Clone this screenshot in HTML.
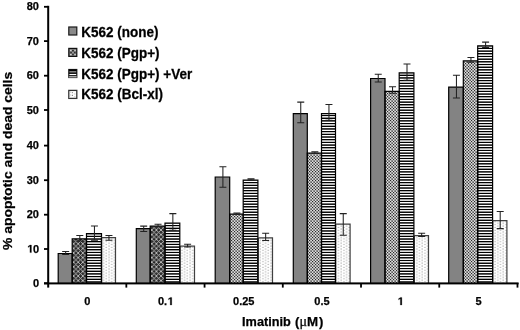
<!DOCTYPE html>
<html><head><meta charset="utf-8"><style>
html,body{margin:0;padding:0;background:#fff;width:520px;height:330px;overflow:hidden}
svg{display:block;will-change:transform}
.bl{filter:blur(0.35px)}
.bl2{filter:blur(0.25px)}
.t11{font-family:"Liberation Sans",sans-serif;font-weight:bold;font-size:11px;fill:#000;stroke:#000;stroke-width:0.25px}
.t14{font-family:"Liberation Sans",sans-serif;font-weight:bold;font-size:13.9px;fill:#000;stroke:#000;stroke-width:0.25px}
.leg{font-family:"Liberation Sans",sans-serif;font-weight:bold;font-size:13.5px;fill:#000;stroke:#000;stroke-width:0.25px}
.t13{font-family:"Liberation Sans",sans-serif;font-weight:bold;font-size:13px;fill:#000;stroke:#000;stroke-width:0.25px}
</style></head><body>
<svg width="520" height="330" viewBox="0 0 520 330">
<defs>
<pattern id="st" patternUnits="userSpaceOnUse" x="0" y="0" width="20" height="330"><rect y="40" width="20" height="1" fill="rgb(0,0,0)"/><rect y="41" width="20" height="1" fill="rgb(255,255,255)"/><rect y="42" width="20" height="1" fill="rgb(81,81,81)"/><rect y="43" width="20" height="1" fill="rgb(51,51,51)"/><rect y="44" width="20" height="1" fill="rgb(255,255,255)"/><rect y="45" width="20" height="1" fill="rgb(0,0,0)"/><rect y="46" width="20" height="1" fill="rgb(164,164,164)"/><rect y="47" width="20" height="1" fill="rgb(212,212,212)"/><rect y="48" width="20" height="1" fill="rgb(0,0,0)"/><rect y="49" width="20" height="1" fill="rgb(255,255,255)"/><rect y="50" width="20" height="1" fill="rgb(100,100,100)"/><rect y="51" width="20" height="1" fill="rgb(34,34,34)"/><rect y="52" width="20" height="1" fill="rgb(255,255,255)"/><rect y="53" width="20" height="1" fill="rgb(3,3,3)"/><rect y="54" width="20" height="1" fill="rgb(145,145,145)"/><rect y="55" width="20" height="1" fill="rgb(228,228,228)"/><rect y="56" width="20" height="1" fill="rgb(0,0,0)"/><rect y="57" width="20" height="1" fill="rgb(246,246,246)"/><rect y="58" width="20" height="1" fill="rgb(120,120,120)"/><rect y="59" width="20" height="1" fill="rgb(19,19,19)"/><rect y="60" width="20" height="1" fill="rgb(255,255,255)"/><rect y="61" width="20" height="1" fill="rgb(16,16,16)"/><rect y="62" width="20" height="1" fill="rgb(125,125,125)"/><rect y="63" width="20" height="1" fill="rgb(243,243,243)"/><rect y="64" width="20" height="1" fill="rgb(0,0,0)"/><rect y="65" width="20" height="1" fill="rgb(232,232,232)"/><rect y="66" width="20" height="1" fill="rgb(140,140,140)"/><rect y="67" width="20" height="1" fill="rgb(5,5,5)"/><rect y="68" width="20" height="1" fill="rgb(255,255,255)"/><rect y="69" width="20" height="1" fill="rgb(31,31,31)"/><rect y="70" width="20" height="1" fill="rgb(105,105,105)"/><rect y="71" width="20" height="1" fill="rgb(255,255,255)"/><rect y="72" width="20" height="1" fill="rgb(0,0,0)"/><rect y="73" width="20" height="1" fill="rgb(216,216,216)"/><rect y="74" width="20" height="1" fill="rgb(160,160,160)"/><rect y="75" width="20" height="1" fill="rgb(0,0,0)"/><rect y="76" width="20" height="1" fill="rgb(255,255,255)"/><rect y="77" width="20" height="1" fill="rgb(48,48,48)"/><rect y="78" width="20" height="1" fill="rgb(85,85,85)"/><rect y="79" width="20" height="1" fill="rgb(255,255,255)"/><rect y="80" width="20" height="1" fill="rgb(0,0,0)"/><rect y="81" width="20" height="1" fill="rgb(199,199,199)"/><rect y="82" width="20" height="1" fill="rgb(179,179,179)"/><rect y="83" width="20" height="1" fill="rgb(0,0,0)"/><rect y="84" width="20" height="1" fill="rgb(255,255,255)"/><rect y="85" width="20" height="1" fill="rgb(65,65,65)"/><rect y="86" width="20" height="1" fill="rgb(66,66,66)"/><rect y="87" width="20" height="1" fill="rgb(255,255,255)"/><rect y="88" width="20" height="1" fill="rgb(0,0,0)"/><rect y="89" width="20" height="1" fill="rgb(180,180,180)"/><rect y="90" width="20" height="1" fill="rgb(198,198,198)"/><rect y="91" width="20" height="1" fill="rgb(0,0,0)"/><rect y="92" width="20" height="1" fill="rgb(255,255,255)"/><rect y="93" width="20" height="1" fill="rgb(84,84,84)"/><rect y="94" width="20" height="1" fill="rgb(48,48,48)"/><rect y="95" width="20" height="1" fill="rgb(255,255,255)"/><rect y="96" width="20" height="1" fill="rgb(0,0,0)"/><rect y="97" width="20" height="1" fill="rgb(161,161,161)"/><rect y="98" width="20" height="1" fill="rgb(215,215,215)"/><rect y="99" width="20" height="1" fill="rgb(0,0,0)"/><rect y="100" width="20" height="1" fill="rgb(255,255,255)"/><rect y="101" width="20" height="1" fill="rgb(104,104,104)"/><rect y="102" width="20" height="1" fill="rgb(32,32,32)"/><rect y="103" width="20" height="1" fill="rgb(255,255,255)"/><rect y="104" width="20" height="1" fill="rgb(5,5,5)"/><rect y="105" width="20" height="1" fill="rgb(141,141,141)"/><rect y="106" width="20" height="1" fill="rgb(231,231,231)"/><rect y="107" width="20" height="1" fill="rgb(0,0,0)"/><rect y="108" width="20" height="1" fill="rgb(244,244,244)"/><rect y="109" width="20" height="1" fill="rgb(124,124,124)"/><rect y="110" width="20" height="1" fill="rgb(17,17,17)"/><rect y="111" width="20" height="1" fill="rgb(255,255,255)"/><rect y="112" width="20" height="1" fill="rgb(18,18,18)"/><rect y="113" width="20" height="1" fill="rgb(121,121,121)"/><rect y="114" width="20" height="1" fill="rgb(245,245,245)"/><rect y="115" width="20" height="1" fill="rgb(0,0,0)"/><rect y="116" width="20" height="1" fill="rgb(229,229,229)"/><rect y="117" width="20" height="1" fill="rgb(144,144,144)"/><rect y="118" width="20" height="1" fill="rgb(3,3,3)"/><rect y="119" width="20" height="1" fill="rgb(255,255,255)"/><rect y="120" width="20" height="1" fill="rgb(34,34,34)"/><rect y="121" width="20" height="1" fill="rgb(101,101,101)"/><rect y="122" width="20" height="1" fill="rgb(255,255,255)"/><rect y="123" width="20" height="1" fill="rgb(0,0,0)"/><rect y="124" width="20" height="1" fill="rgb(213,213,213)"/><rect y="125" width="20" height="1" fill="rgb(163,163,163)"/><rect y="126" width="20" height="1" fill="rgb(0,0,0)"/><rect y="127" width="20" height="1" fill="rgb(255,255,255)"/><rect y="128" width="20" height="1" fill="rgb(51,51,51)"/><rect y="129" width="20" height="1" fill="rgb(82,82,82)"/><rect y="130" width="20" height="1" fill="rgb(255,255,255)"/><rect y="131" width="20" height="1" fill="rgb(0,0,0)"/><rect y="132" width="20" height="1" fill="rgb(196,196,196)"/><rect y="133" width="20" height="1" fill="rgb(183,183,183)"/><rect y="134" width="20" height="1" fill="rgb(0,0,0)"/><rect y="135" width="20" height="1" fill="rgb(255,255,255)"/><rect y="136" width="20" height="1" fill="rgb(69,69,69)"/><rect y="137" width="20" height="1" fill="rgb(63,63,63)"/><rect y="138" width="20" height="1" fill="rgb(255,255,255)"/><rect y="139" width="20" height="1" fill="rgb(0,0,0)"/><rect y="140" width="20" height="1" fill="rgb(177,177,177)"/><rect y="141" width="20" height="1" fill="rgb(201,201,201)"/><rect y="142" width="20" height="1" fill="rgb(0,0,0)"/><rect y="143" width="20" height="1" fill="rgb(255,255,255)"/><rect y="144" width="20" height="1" fill="rgb(88,88,88)"/><rect y="145" width="20" height="1" fill="rgb(45,45,45)"/><rect y="146" width="20" height="1" fill="rgb(255,255,255)"/><rect y="147" width="20" height="1" fill="rgb(0,0,0)"/><rect y="148" width="20" height="1" fill="rgb(158,158,158)"/><rect y="149" width="20" height="1" fill="rgb(218,218,218)"/><rect y="150" width="20" height="1" fill="rgb(0,0,0)"/><rect y="151" width="20" height="1" fill="rgb(254,254,254)"/><rect y="152" width="20" height="1" fill="rgb(107,107,107)"/><rect y="153" width="20" height="1" fill="rgb(29,29,29)"/><rect y="154" width="20" height="1" fill="rgb(255,255,255)"/><rect y="155" width="20" height="1" fill="rgb(7,7,7)"/><rect y="156" width="20" height="1" fill="rgb(138,138,138)"/><rect y="157" width="20" height="1" fill="rgb(234,234,234)"/><rect y="158" width="20" height="1" fill="rgb(0,0,0)"/><rect y="159" width="20" height="1" fill="rgb(241,241,241)"/><rect y="160" width="20" height="1" fill="rgb(127,127,127)"/><rect y="161" width="20" height="1" fill="rgb(14,14,14)"/><rect y="162" width="20" height="1" fill="rgb(255,255,255)"/><rect y="163" width="20" height="1" fill="rgb(21,21,21)"/><rect y="164" width="20" height="1" fill="rgb(118,118,118)"/><rect y="165" width="20" height="1" fill="rgb(248,248,248)"/><rect y="166" width="20" height="1" fill="rgb(0,0,0)"/><rect y="167" width="20" height="1" fill="rgb(226,226,226)"/><rect y="168" width="20" height="1" fill="rgb(147,147,147)"/><rect y="169" width="20" height="1" fill="rgb(1,1,1)"/><rect y="170" width="20" height="1" fill="rgb(255,255,255)"/><rect y="171" width="20" height="1" fill="rgb(37,37,37)"/><rect y="172" width="20" height="1" fill="rgb(98,98,98)"/><rect y="173" width="20" height="1" fill="rgb(255,255,255)"/><rect y="174" width="20" height="1" fill="rgb(0,0,0)"/><rect y="175" width="20" height="1" fill="rgb(210,210,210)"/><rect y="176" width="20" height="1" fill="rgb(167,167,167)"/><rect y="177" width="20" height="1" fill="rgb(0,0,0)"/><rect y="178" width="20" height="1" fill="rgb(255,255,255)"/><rect y="179" width="20" height="1" fill="rgb(54,54,54)"/><rect y="180" width="20" height="1" fill="rgb(79,79,79)"/><rect y="181" width="20" height="1" fill="rgb(255,255,255)"/><rect y="182" width="20" height="1" fill="rgb(0,0,0)"/><rect y="183" width="20" height="1" fill="rgb(192,192,192)"/><rect y="184" width="20" height="1" fill="rgb(186,186,186)"/><rect y="185" width="20" height="1" fill="rgb(0,0,0)"/><rect y="186" width="20" height="1" fill="rgb(255,255,255)"/><rect y="187" width="20" height="1" fill="rgb(72,72,72)"/><rect y="188" width="20" height="1" fill="rgb(60,60,60)"/><rect y="189" width="20" height="1" fill="rgb(255,255,255)"/><rect y="190" width="20" height="1" fill="rgb(0,0,0)"/><rect y="191" width="20" height="1" fill="rgb(174,174,174)"/><rect y="192" width="20" height="1" fill="rgb(204,204,204)"/><rect y="193" width="20" height="1" fill="rgb(0,0,0)"/><rect y="194" width="20" height="1" fill="rgb(255,255,255)"/><rect y="195" width="20" height="1" fill="rgb(91,91,91)"/><rect y="196" width="20" height="1" fill="rgb(42,42,42)"/><rect y="197" width="20" height="1" fill="rgb(255,255,255)"/><rect y="198" width="20" height="1" fill="rgb(0,0,0)"/><rect y="199" width="20" height="1" fill="rgb(154,154,154)"/><rect y="200" width="20" height="1" fill="rgb(221,221,221)"/><rect y="201" width="20" height="1" fill="rgb(0,0,0)"/><rect y="202" width="20" height="1" fill="rgb(252,252,252)"/><rect y="203" width="20" height="1" fill="rgb(111,111,111)"/><rect y="204" width="20" height="1" fill="rgb(26,26,26)"/><rect y="205" width="20" height="1" fill="rgb(255,255,255)"/><rect y="206" width="20" height="1" fill="rgb(9,9,9)"/><rect y="207" width="20" height="1" fill="rgb(134,134,134)"/><rect y="208" width="20" height="1" fill="rgb(236,236,236)"/><rect y="209" width="20" height="1" fill="rgb(0,0,0)"/><rect y="210" width="20" height="1" fill="rgb(239,239,239)"/><rect y="211" width="20" height="1" fill="rgb(131,131,131)"/><rect y="212" width="20" height="1" fill="rgb(12,12,12)"/><rect y="213" width="20" height="1" fill="rgb(255,255,255)"/><rect y="214" width="20" height="1" fill="rgb(23,23,23)"/><rect y="215" width="20" height="1" fill="rgb(114,114,114)"/><rect y="216" width="20" height="1" fill="rgb(250,250,250)"/><rect y="217" width="20" height="1" fill="rgb(0,0,0)"/><rect y="218" width="20" height="1" fill="rgb(224,224,224)"/><rect y="219" width="20" height="1" fill="rgb(151,151,151)"/><rect y="220" width="20" height="1" fill="rgb(0,0,0)"/><rect y="221" width="20" height="1" fill="rgb(255,255,255)"/><rect y="222" width="20" height="1" fill="rgb(39,39,39)"/><rect y="223" width="20" height="1" fill="rgb(95,95,95)"/><rect y="224" width="20" height="1" fill="rgb(255,255,255)"/><rect y="225" width="20" height="1" fill="rgb(0,0,0)"/><rect y="226" width="20" height="1" fill="rgb(207,207,207)"/><rect y="227" width="20" height="1" fill="rgb(170,170,170)"/><rect y="228" width="20" height="1" fill="rgb(0,0,0)"/><rect y="229" width="20" height="1" fill="rgb(255,255,255)"/><rect y="230" width="20" height="1" fill="rgb(57,57,57)"/><rect y="231" width="20" height="1" fill="rgb(75,75,75)"/><rect y="232" width="20" height="1" fill="rgb(255,255,255)"/><rect y="233" width="20" height="1" fill="rgb(0,0,0)"/><rect y="234" width="20" height="1" fill="rgb(189,189,189)"/><rect y="235" width="20" height="1" fill="rgb(189,189,189)"/><rect y="236" width="20" height="1" fill="rgb(0,0,0)"/><rect y="237" width="20" height="1" fill="rgb(255,255,255)"/><rect y="238" width="20" height="1" fill="rgb(75,75,75)"/><rect y="239" width="20" height="1" fill="rgb(57,57,57)"/><rect y="240" width="20" height="1" fill="rgb(255,255,255)"/><rect y="241" width="20" height="1" fill="rgb(0,0,0)"/><rect y="242" width="20" height="1" fill="rgb(170,170,170)"/><rect y="243" width="20" height="1" fill="rgb(207,207,207)"/><rect y="244" width="20" height="1" fill="rgb(0,0,0)"/><rect y="245" width="20" height="1" fill="rgb(255,255,255)"/><rect y="246" width="20" height="1" fill="rgb(94,94,94)"/><rect y="247" width="20" height="1" fill="rgb(40,40,40)"/><rect y="248" width="20" height="1" fill="rgb(255,255,255)"/><rect y="249" width="20" height="1" fill="rgb(0,0,0)"/><rect y="250" width="20" height="1" fill="rgb(151,151,151)"/><rect y="251" width="20" height="1" fill="rgb(224,224,224)"/><rect y="252" width="20" height="1" fill="rgb(0,0,0)"/><rect y="253" width="20" height="1" fill="rgb(250,250,250)"/><rect y="254" width="20" height="1" fill="rgb(114,114,114)"/><rect y="255" width="20" height="1" fill="rgb(24,24,24)"/><rect y="256" width="20" height="1" fill="rgb(255,255,255)"/><rect y="257" width="20" height="1" fill="rgb(12,12,12)"/><rect y="258" width="20" height="1" fill="rgb(131,131,131)"/><rect y="259" width="20" height="1" fill="rgb(239,239,239)"/><rect y="260" width="20" height="1" fill="rgb(0,0,0)"/><rect y="261" width="20" height="1" fill="rgb(236,236,236)"/><rect y="262" width="20" height="1" fill="rgb(134,134,134)"/><rect y="263" width="20" height="1" fill="rgb(9,9,9)"/><rect y="264" width="20" height="1" fill="rgb(255,255,255)"/><rect y="265" width="20" height="1" fill="rgb(26,26,26)"/><rect y="266" width="20" height="1" fill="rgb(111,111,111)"/><rect y="267" width="20" height="1" fill="rgb(252,252,252)"/><rect y="268" width="20" height="1" fill="rgb(0,0,0)"/><rect y="269" width="20" height="1" fill="rgb(221,221,221)"/><rect y="270" width="20" height="1" fill="rgb(154,154,154)"/><rect y="271" width="20" height="1" fill="rgb(0,0,0)"/><rect y="272" width="20" height="1" fill="rgb(255,255,255)"/><rect y="273" width="20" height="1" fill="rgb(42,42,42)"/><rect y="274" width="20" height="1" fill="rgb(91,91,91)"/><rect y="275" width="20" height="1" fill="rgb(255,255,255)"/><rect y="276" width="20" height="1" fill="rgb(0,0,0)"/><rect y="277" width="20" height="1" fill="rgb(204,204,204)"/><rect y="278" width="20" height="1" fill="rgb(173,173,173)"/><rect y="279" width="20" height="1" fill="rgb(0,0,0)"/><rect y="280" width="20" height="1" fill="rgb(255,255,255)"/><rect y="281" width="20" height="1" fill="rgb(60,60,60)"/><rect y="282" width="20" height="1" fill="rgb(72,72,72)"/><rect y="283" width="20" height="1" fill="rgb(255,255,255)"/><rect y="284" width="20" height="1" fill="rgb(0,0,0)"/><rect y="285" width="20" height="1" fill="rgb(186,186,186)"/></pattern>
<pattern id="xh" patternUnits="userSpaceOnUse" width="4.6" height="4.6"><rect width="4.6" height="4.6" fill="#303030"/><path d="M-1 -1L5.6 5.6M5.6 -1L-1 5.6" stroke="#c4c4c4" stroke-width="0.85"/><rect x="2.0" y="0" width="0.6" height="0.6" fill="#000"/></pattern>
<pattern id="ck" patternUnits="userSpaceOnUse" width="3" height="3"><rect width="3" height="3" fill="#a2a2a2"/><rect width="1.2" height="1.2" fill="#262626"/><rect x="1.5" y="1.5" width="1.2" height="1.2" fill="#262626"/><rect x="1.5" y="0" width="1.2" height="1.2" fill="#f4f4f4"/><rect x="0" y="1.5" width="1.2" height="1.2" fill="#f4f4f4"/></pattern>
<pattern id="dt" patternUnits="userSpaceOnUse" width="5.4" height="2.85"><rect width="5.4" height="2.85" fill="#fff"/><rect x="0.4" y="0.4" width="1.2" height="1.2" fill="#a8a8a8"/><rect x="3.1" y="1.8" width="1.2" height="1.2" fill="#a8a8a8"/></pattern>
</defs>
<rect width="520" height="330" fill="#fff"/>
<rect x="58.20" y="253.50" width="14.00" height="29.70" fill="#838383"/>
<rect x="72.20" y="238.80" width="14.30" height="44.40" fill="url(#xh)"/>
<rect x="86.50" y="233.70" width="15.00" height="49.50" fill="url(#st)"/>
<rect x="101.50" y="237.70" width="14.00" height="45.50" fill="url(#dt)"/>
<path d="M58.20 283.20V253.50H72.20V283.20" fill="none" stroke="#000" stroke-width="1.2"/>
<path d="M72.20 283.20V238.80H86.50V283.20" fill="none" stroke="#000" stroke-width="1.2"/>
<path d="M86.50 283.20V233.70H101.50V283.20" fill="none" stroke="#000" stroke-width="1.2"/>
<path d="M101.50 283.20V237.70H115.50V283.20" fill="none" stroke="#404040" stroke-width="1.2"/>
<path d="M101.50 283.20V237.70" stroke="#000" stroke-width="1.2"/>
<rect x="136.30" y="228.60" width="13.90" height="54.60" fill="#838383"/>
<rect x="150.20" y="226.10" width="14.80" height="57.10" fill="url(#xh)"/>
<rect x="165.00" y="223.00" width="14.80" height="60.20" fill="url(#st)"/>
<rect x="179.80" y="246.10" width="14.70" height="37.10" fill="url(#dt)"/>
<path d="M136.30 283.20V228.60H150.20V283.20" fill="none" stroke="#000" stroke-width="1.2"/>
<path d="M150.20 283.20V226.10H165.00V283.20" fill="none" stroke="#000" stroke-width="1.2"/>
<path d="M165.00 283.20V223.00H179.80V283.20" fill="none" stroke="#000" stroke-width="1.2"/>
<path d="M179.80 283.20V246.10H194.50V283.20" fill="none" stroke="#404040" stroke-width="1.2"/>
<path d="M179.80 283.20V246.10" stroke="#000" stroke-width="1.2"/>
<rect x="215.20" y="177.00" width="14.50" height="106.20" fill="#838383"/>
<rect x="229.70" y="214.20" width="13.50" height="69.00" fill="url(#ck)"/>
<rect x="243.20" y="180.00" width="14.70" height="103.20" fill="url(#st)"/>
<rect x="257.90" y="237.90" width="14.60" height="45.30" fill="url(#dt)"/>
<path d="M215.20 283.20V177.00H229.70V283.20" fill="none" stroke="#000" stroke-width="1.2"/>
<path d="M229.70 283.20V214.20H243.20V283.20" fill="none" stroke="#000" stroke-width="1.2"/>
<path d="M243.20 283.20V180.00H257.90V283.20" fill="none" stroke="#000" stroke-width="1.2"/>
<path d="M257.90 283.20V237.90H272.50V283.20" fill="none" stroke="#404040" stroke-width="1.2"/>
<path d="M257.90 283.20V237.90" stroke="#000" stroke-width="1.2"/>
<rect x="293.30" y="113.60" width="14.00" height="169.60" fill="#838383"/>
<rect x="307.30" y="153.10" width="14.20" height="130.10" fill="url(#ck)"/>
<rect x="321.50" y="113.60" width="14.00" height="169.60" fill="url(#st)"/>
<rect x="335.50" y="224.20" width="14.60" height="59.00" fill="url(#dt)"/>
<path d="M293.30 283.20V113.60H307.30V283.20" fill="none" stroke="#000" stroke-width="1.2"/>
<path d="M307.30 283.20V153.10H321.50V283.20" fill="none" stroke="#000" stroke-width="1.2"/>
<path d="M321.50 283.20V113.60H335.50V283.20" fill="none" stroke="#000" stroke-width="1.2"/>
<path d="M335.50 283.20V224.20H350.10V283.20" fill="none" stroke="#404040" stroke-width="1.2"/>
<path d="M335.50 283.20V224.20" stroke="#000" stroke-width="1.2"/>
<rect x="370.60" y="78.50" width="14.40" height="204.70" fill="#838383"/>
<rect x="385.00" y="91.30" width="14.20" height="191.90" fill="url(#ck)"/>
<rect x="399.20" y="72.90" width="14.70" height="210.30" fill="url(#st)"/>
<rect x="413.90" y="235.70" width="14.60" height="47.50" fill="url(#dt)"/>
<path d="M370.60 283.20V78.50H385.00V283.20" fill="none" stroke="#000" stroke-width="1.2"/>
<path d="M385.00 283.20V91.30H399.20V283.20" fill="none" stroke="#000" stroke-width="1.2"/>
<path d="M399.20 283.20V72.90H413.90V283.20" fill="none" stroke="#000" stroke-width="1.2"/>
<path d="M413.90 283.20V235.70H428.50V283.20" fill="none" stroke="#404040" stroke-width="1.2"/>
<path d="M413.90 283.20V235.70" stroke="#000" stroke-width="1.2"/>
<rect x="448.70" y="87.10" width="14.60" height="196.10" fill="#838383"/>
<rect x="463.30" y="60.90" width="14.40" height="222.30" fill="url(#ck)"/>
<rect x="477.70" y="45.90" width="14.90" height="237.30" fill="url(#st)"/>
<rect x="492.60" y="220.60" width="14.30" height="62.60" fill="url(#dt)"/>
<path d="M448.70 283.20V87.10H463.30V283.20" fill="none" stroke="#000" stroke-width="1.2"/>
<path d="M463.30 283.20V60.90H477.70V283.20" fill="none" stroke="#000" stroke-width="1.2"/>
<path d="M477.70 283.20V45.90H492.60V283.20" fill="none" stroke="#000" stroke-width="1.2"/>
<path d="M492.60 283.20V220.60H506.90V283.20" fill="none" stroke="#404040" stroke-width="1.2"/>
<path d="M492.60 283.20V220.60" stroke="#000" stroke-width="1.2"/>
<path d="M65.65 251.50V254.50M62.15 251.50H69.15M62.15 254.50H69.15" stroke="#222" stroke-width="1.05" fill="none"/>
<path d="M79.80 235.40V240.90M76.30 235.40H83.30M76.30 240.90H83.30" stroke="#222" stroke-width="1.05" fill="none"/>
<path d="M94.45 225.90V240.20M90.95 225.90H97.95M90.95 240.20H97.95" stroke="#222" stroke-width="1.05" fill="none"/>
<path d="M108.95 235.40V240.20M105.45 235.40H112.45M105.45 240.20H112.45" stroke="#222" stroke-width="1.05" fill="none"/>
<path d="M143.70 226.10V231.50M140.20 226.10H147.20M140.20 231.50H147.20" stroke="#222" stroke-width="1.05" fill="none"/>
<path d="M158.05 224.20V226.60M154.55 224.20H161.55M154.55 226.60H161.55" stroke="#222" stroke-width="1.05" fill="none"/>
<path d="M172.85 213.60V230.30M169.35 213.60H176.35M169.35 230.30H176.35" stroke="#222" stroke-width="1.05" fill="none"/>
<path d="M187.60 244.20V247.00M184.10 244.20H191.10M184.10 247.00H191.10" stroke="#222" stroke-width="1.05" fill="none"/>
<path d="M222.90 166.80V187.30M219.40 166.80H226.40M219.40 187.30H226.40" stroke="#222" stroke-width="1.05" fill="none"/>
<path d="M236.90 212.90V214.30M233.40 212.90H240.40M233.40 214.30H240.40" stroke="#222" stroke-width="1.05" fill="none"/>
<path d="M251.00 178.70V180.10M247.50 178.70H254.50M247.50 180.10H254.50" stroke="#222" stroke-width="1.05" fill="none"/>
<path d="M265.65 233.30V240.40M262.15 233.30H269.15M262.15 240.40H269.15" stroke="#222" stroke-width="1.05" fill="none"/>
<path d="M300.75 102.10V122.70M297.25 102.10H304.25M297.25 122.70H304.25" stroke="#222" stroke-width="1.05" fill="none"/>
<path d="M314.85 151.80V153.20M311.35 151.80H318.35M311.35 153.20H318.35" stroke="#222" stroke-width="1.05" fill="none"/>
<path d="M328.95 104.50V120.30M325.45 104.50H332.45M325.45 120.30H332.45" stroke="#222" stroke-width="1.05" fill="none"/>
<path d="M343.25 213.60V235.20M339.75 213.60H346.75M339.75 235.20H346.75" stroke="#222" stroke-width="1.05" fill="none"/>
<path d="M378.25 74.20V82.00M374.75 74.20H381.75M374.75 82.00H381.75" stroke="#222" stroke-width="1.05" fill="none"/>
<path d="M392.55 86.80V93.20M389.05 86.80H396.05M389.05 93.20H396.05" stroke="#222" stroke-width="1.05" fill="none"/>
<path d="M407.00 64.00V80.30M403.50 64.00H410.50M403.50 80.30H410.50" stroke="#222" stroke-width="1.05" fill="none"/>
<path d="M421.65 233.30V236.40M418.15 233.30H425.15M418.15 236.40H425.15" stroke="#222" stroke-width="1.05" fill="none"/>
<path d="M456.45 75.30V97.90M452.95 75.30H459.95M452.95 97.90H459.95" stroke="#222" stroke-width="1.05" fill="none"/>
<path d="M470.95 57.40V62.20M467.45 57.40H474.45M467.45 62.20H474.45" stroke="#222" stroke-width="1.05" fill="none"/>
<path d="M485.60 42.10V47.50M482.10 42.10H489.10M482.10 47.50H489.10" stroke="#222" stroke-width="1.05" fill="none"/>
<path d="M500.20 211.50V228.60M496.70 211.50H503.70M496.70 228.60H503.70" stroke="#222" stroke-width="1.05" fill="none"/>
<rect x="47.2" y="5.8" width="2" height="281.8" fill="#000"/>
<rect x="44" y="282.4" width="474.6" height="2" fill="#000"/>
<rect x="44" y="282.40" width="4" height="1.8" fill="#000"/>
<rect x="44" y="248.10" width="4" height="1.8" fill="#000"/>
<rect x="44" y="213.80" width="4" height="1.8" fill="#000"/>
<rect x="44" y="179.30" width="4" height="1.8" fill="#000"/>
<rect x="44" y="144.70" width="4" height="1.8" fill="#000"/>
<rect x="44" y="109.10" width="4" height="1.8" fill="#000"/>
<rect x="44" y="74.80" width="4" height="1.8" fill="#000"/>
<rect x="44" y="40.20" width="4" height="1.8" fill="#000"/>
<rect x="44" y="5.90" width="4" height="1.8" fill="#000"/>
<rect x="125.43" y="283" width="1.8" height="4.6" fill="#000"/>
<rect x="203.66" y="283" width="1.8" height="4.6" fill="#000"/>
<rect x="281.89" y="283" width="1.8" height="4.6" fill="#000"/>
<rect x="360.12" y="283" width="1.8" height="4.6" fill="#000"/>
<rect x="438.35" y="283" width="1.8" height="4.6" fill="#000"/>
<rect x="516.58" y="283" width="1.8" height="4.6" fill="#000"/>
<g class="bl"><text x="39" y="286.90" text-anchor="end" class="t11">0</text>
<path transform="translate(27.37 252.60) scale(0.005371 -0.005371)" d="M478 0V1170L140 959V1180L493 1409H759V0Z" fill="#000" stroke="#000" stroke-width="46.5"/>
<text x="32.88" y="252.60" class="t11">0</text>
<text x="39" y="218.30" text-anchor="end" class="t11">20</text>
<text x="39" y="183.80" text-anchor="end" class="t11">30</text>
<text x="39" y="149.20" text-anchor="end" class="t11">40</text>
<text x="39" y="113.60" text-anchor="end" class="t11">50</text>
<text x="39" y="79.30" text-anchor="end" class="t11">60</text>
<text x="39" y="44.70" text-anchor="end" class="t11">70</text>
<text x="39" y="10.40" text-anchor="end" class="t11">80</text>
<text x="87.31" y="305" text-anchor="middle" class="t11">0</text>
<text x="157.90" y="305" class="t11">0.</text>
<path transform="translate(167.67 305.00) scale(0.005371 -0.005371)" d="M478 0V1170L140 959V1180L493 1409H759V0Z" fill="#000" stroke="#000" stroke-width="46.5"/>
<text x="243.78" y="305" text-anchor="middle" class="t11">0.25</text>
<text x="322.00" y="305" text-anchor="middle" class="t11">0.5</text>
<path transform="translate(397.78 305.00) scale(0.005371 -0.005371)" d="M478 0V1170L140 959V1180L493 1409H759V0Z" fill="#000" stroke="#000" stroke-width="46.5"/>
<text x="478.47" y="305" text-anchor="middle" class="t11">5</text>
<text y="325.8" class="t13"><tspan x="242.1" style="font-size:12.7px">Imatinib</tspan><tspan x="295.0">(</tspan><tspan x="299.6" style="font-family:Liberation Serif;font-weight:normal;font-size:14px">&#956;</tspan><tspan x="307.0" style="font-size:13.3px">M</tspan><tspan x="319.0">)</tspan></text>
<text transform="translate(12.2 160.9) rotate(-90) scale(1.069 1)" text-anchor="middle" class="t13">% apoptotic and dead cells</text>
<rect x="68.80" y="27.00" width="8" height="8" fill="#8a8a8a" stroke="#1a1a1a" stroke-width="1.2"/>
<text transform="translate(81.2 36.75) scale(1 1.075)" class="leg">K562 (none)</text>
<rect x="68.80" y="48.40" width="8" height="8" fill="#787878" stroke="#111" stroke-width="1.2"/>
<rect x="70.20" y="49.80" width="1.3" height="1.3" fill="#eee"/>
<rect x="74.40" y="49.80" width="1.3" height="1.3" fill="#ddd"/>
<rect x="72.30" y="51.90" width="1.3" height="1.3" fill="#aaa"/>
<rect x="70.20" y="54.00" width="1.3" height="1.3" fill="#eee"/>
<rect x="74.40" y="54.00" width="1.3" height="1.3" fill="#ddd"/>
<rect x="72.30" y="50.00" width="1.3" height="1.3" fill="#111"/>
<rect x="70.40" y="51.90" width="1.3" height="1.3" fill="#222"/>
<rect x="74.20" y="51.90" width="1.3" height="1.3" fill="#222"/>
<rect x="72.30" y="53.80" width="1.3" height="1.3" fill="#222"/>
<text transform="translate(81.2 57.90) scale(1 1.075)" class="leg">K562 (Pgp+)</text>
<rect x="68.80" y="69.50" width="8" height="8" fill="#fff" stroke="#1a1a1a" stroke-width="1.2"/>
<rect x="68.80" y="69.50" width="8" height="2.0" fill="#000"/>
<rect x="68.80" y="72.30" width="8" height="1.6" fill="#000"/>
<rect x="68.80" y="75.10" width="8" height="1.2" fill="#111"/>
<rect x="68.80" y="76.30" width="8" height="1.2" fill="#aaa"/>
<text transform="translate(81.2 78.55) scale(1 1.075)" class="leg">K562 (Pgp+) +Ver</text>
<rect x="68.80" y="90.40" width="8" height="8" fill="#fff" stroke="#333" stroke-width="1.3"/>
<rect x="71.80" y="92.00" width="1.2" height="1.2" fill="#999"/>
<rect x="71.80" y="94.80" width="1.2" height="1.2" fill="#888"/>
<rect x="69.50" y="91.60" width="1.2" height="1.2" fill="#bbb"/>
<rect x="69.50" y="94.40" width="1.2" height="1.2" fill="#bbb"/>
<rect x="69.50" y="96.80" width="1.2" height="1.2" fill="#ccc"/>
<rect x="74.20" y="93.40" width="1.2" height="1.2" fill="#ccc"/>
<rect x="74.20" y="96.20" width="1.2" height="1.2" fill="#ccc"/>
<text transform="translate(81.2 99.45) scale(1 1.075)" class="leg">K562 (Bcl-xl)</text></g>
</svg>
</body></html>
